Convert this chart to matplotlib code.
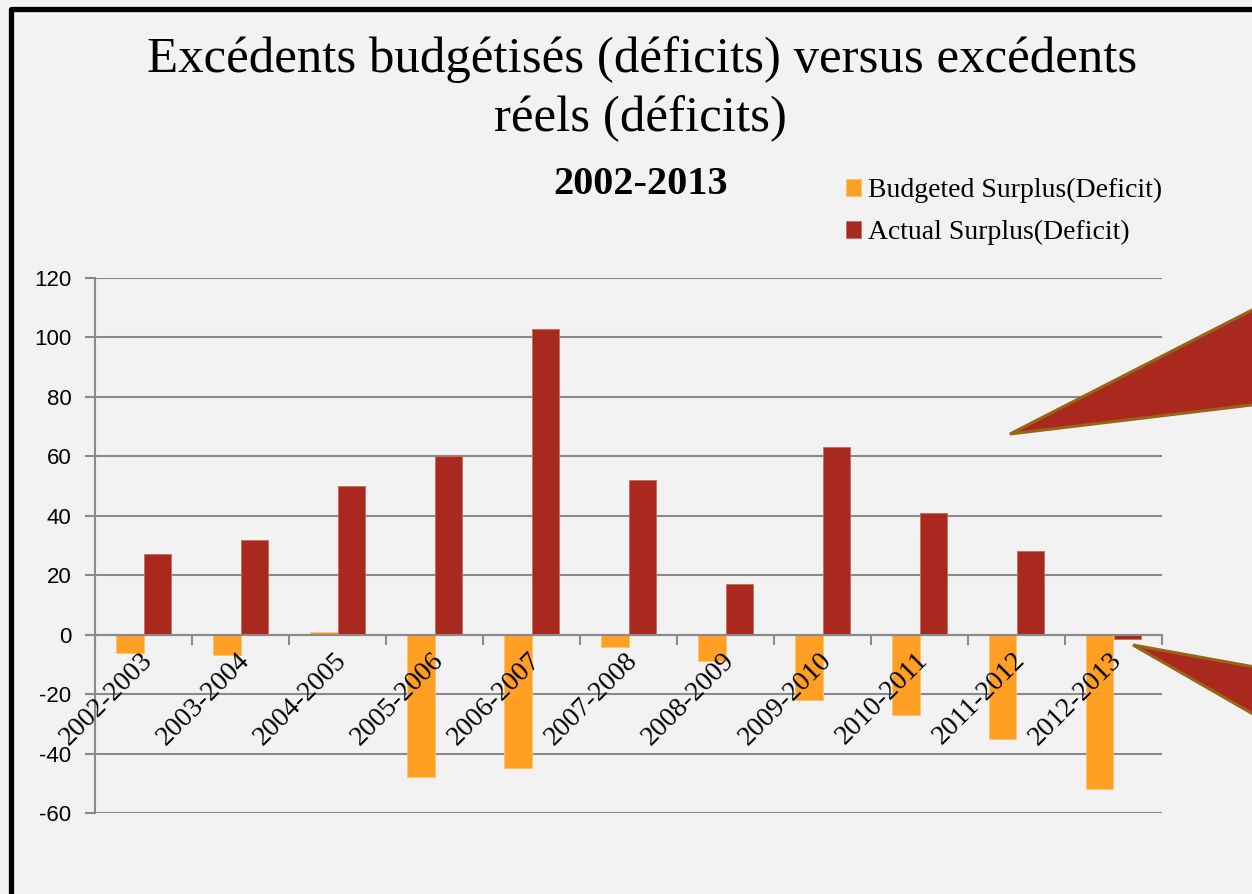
import matplotlib
matplotlib.use("Agg")
import matplotlib.pyplot as plt
from matplotlib.patches import Polygon
from matplotlib.lines import Line2D
from matplotlib.font_manager import FontProperties
import matplotlib.transforms as mtransforms
import numpy as np

categories = ["2002-2003", "2003-2004", "2004-2005", "2005-2006", "2006-2007",
              "2007-2008", "2008-2009", "2009-2010", "2010-2011", "2011-2012",
              "2012-2013"]
budgeted = [-6, -7, 1, -48, -45, -4, -9, -22, -27, -35, -52]
actual = [27, 32, 50, 60, 103, 52, 17, 63, 41, 28, -1.5]
series_names = ["Budgeted Surplus(Deficit)", "Actual Surplus(Deficit)"]
yticks = [-60, -40, -20, 0, 20, 40, 60, 80, 100, 120]

W, H = 1252, 894
fig = plt.figure(figsize=(W / 100, H / 100), dpi=100, facecolor="#f2f2f2")

def fx(x):
    return x / W

def fy(y):
    return 1 - y / H

serif = "Liberation Serif"

ax = fig.add_axes([fx(95), fy(813), fx(1162) - fx(95), fy(278) - fy(813)])
ax.set_facecolor("none")

orange = "#FFA024"
red = "#A9291F"
grid_c = "#8a8a8a"

x = np.arange(len(categories))
bw = 0.286
b1 = ax.bar(x - bw / 2, budgeted, bw, color=orange, edgecolor="#ffc070", linewidth=0.6,
            label=series_names[0], zorder=3)
b2 = ax.bar(x + bw / 2, actual, bw, color=red, edgecolor="#c86a60", linewidth=0.6,
            label=series_names[1], zorder=3)

ax.set_xlim(-0.5, len(categories) - 0.5)
ax.set_ylim(-60, 120)
ax.set_yticks(yticks)
ax.set_yticklabels([str(v) for v in yticks],
                   fontproperties=FontProperties(family="Liberation Sans", size=16))
ax.yaxis.grid(True, color=grid_c, linewidth=1.5, zorder=0)
ax.tick_params(axis="y", length=7, width=1.5, color=grid_c, pad=10)

for s in ["top", "right"]:
    ax.spines[s].set_visible(False)
ax.spines["left"].set_color(grid_c)
ax.spines["left"].set_linewidth(1.5)
ax.spines["bottom"].set_position(("data", 0))
ax.spines["bottom"].set_color(grid_c)
ax.spines["bottom"].set_linewidth(1.5)
ax.spines["bottom"].set_zorder(4)

ax.set_xticks(x)
ax.set_xticklabels([])
ax.tick_params(axis="x", which="major", length=0)
ax.set_xticks(np.arange(-0.5, len(categories), 1.0), minor=True)
ax.tick_params(axis="x", which="minor", length=7, width=1.5, color=grid_c, direction="out")

off = mtransforms.ScaledTranslation(5 / 100, -22 / 100, fig.dpi_scale_trans)
xfp = FontProperties(family=serif, size=20)
for i, lab in enumerate(categories):
    ax.text(i, 0, lab, transform=ax.transData + off, rotation=45,
            rotation_mode="anchor", ha="right", va="center",
            fontproperties=xfp, color="black", zorder=5)

# Titles
tfp = FontProperties(family=serif, size=36.6)
fig.text(fx(642), fy(60), "Excédents budgétisés (déficits) versus excédents",
         ha="center", va="center", fontproperties=tfp)
fig.text(fx(640), fy(119), "réels (déficits)",
         ha="center", va="center", fontproperties=tfp)
fig.text(fx(641), fy(184), "2002-2013",
         ha="center", va="center",
         fontproperties=FontProperties(family=serif, size=29, weight="bold"))

# Legend
leg = fig.legend(handles=[b1, b2], labels=series_names, loc="upper left",
                 bbox_to_anchor=(fx(846), fy(178)), frameon=False,
                 handlelength=0.55, handleheight=0.55, handletextpad=0.25,
                 labelspacing=0.6, borderaxespad=0, borderpad=0,
                 prop=FontProperties(family=serif, size=20))

# Callout triangles
p1 = Polygon([(fx(1010), fy(434)), (fx(1260), fy(306)), (fx(1260), fy(404))],
             closed=True, transform=fig.transFigure, facecolor=red,
             edgecolor="#9a6416", linewidth=2.2, zorder=10)
p2 = Polygon([(fx(1133), fy(645)), (fx(1260), fy(668)), (fx(1260), fy(718))],
             closed=True, transform=fig.transFigure, facecolor=red,
             edgecolor="#9a6416", linewidth=2.2, zorder=10)
fig.patches.extend([p1, p2])

# Frame border
fig.add_artist(Line2D([fx(10.5), fx(10.5), fx(1260)], [fy(900), fy(8.5), fy(8.5)],
                      transform=fig.transFigure, color="black", linewidth=3.8,
                      solid_joinstyle="round"))

fig.savefig("out.png", dpi=100, facecolor=fig.get_facecolor())
